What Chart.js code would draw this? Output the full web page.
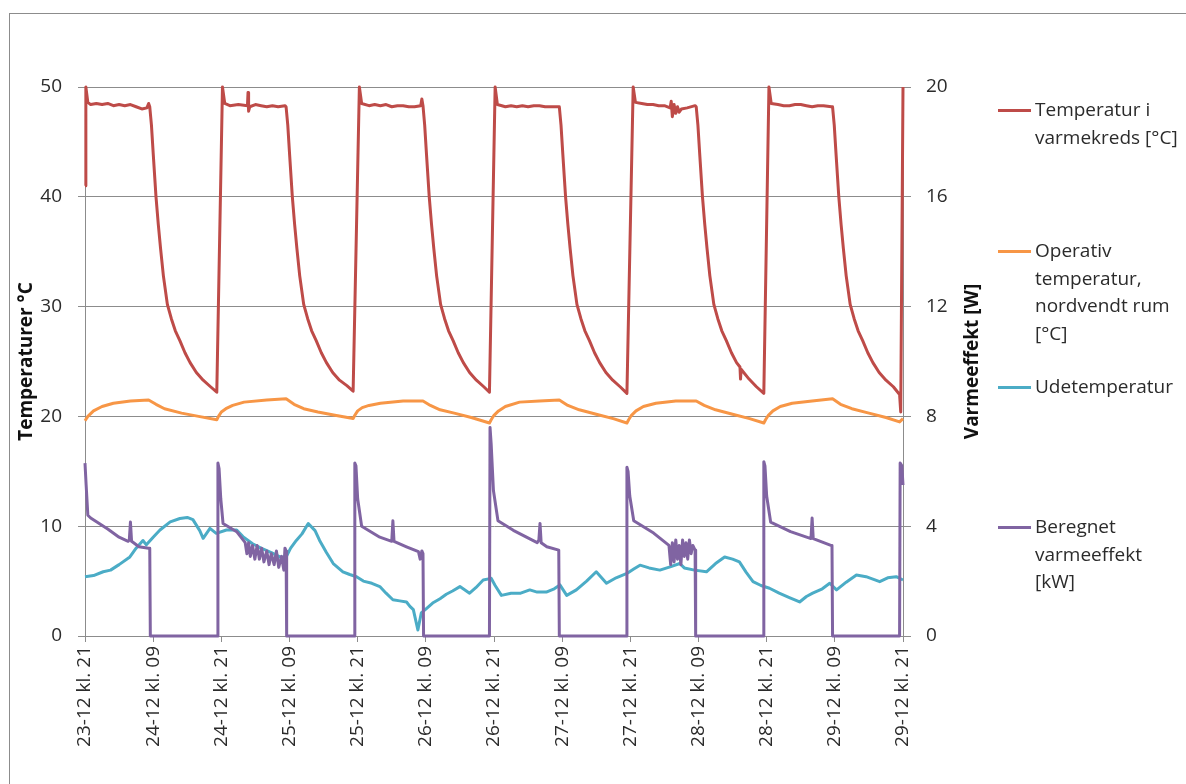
<!DOCTYPE html>
<html>
<head>
<meta charset="utf-8">
<script src="https://cdn.jsdelivr.net/npm/chart.js@4.4.1/dist/chart.umd.min.js"></script>
<style>
  html, body { margin: 0; padding: 0; background: #fff; }
  #wrap { position: relative; width: 1186px; height: 784px; overflow: hidden; font-family: "Open Sans", sans-serif; }
  #frame { position: absolute; left: 9px; top: 13px; width: 1300px; height: 900px; border-left: 1px solid #8c8c8c; border-top: 1px solid #8c8c8c; }
  #chart { position: absolute; left: 0; top: 0; }
  .lg-item { position: absolute; left: 998px; }
  .lg-line { position: absolute; left: 0; width: 33px; height: 3px; }
  .lg-text { position: absolute; left: 37px; font-size: 19px; line-height: 27.5px; color: #2b2b2b; white-space: nowrap; }
</style>
</head>
<body>
<div id="wrap">
  <div id="frame"></div>
  <canvas id="chart" width="1186" height="784"></canvas>
  <div id="legend"></div>
</div>
<script>
// x axis: hours after 23-12 kl. 21
const xTickHours = [0, 12, 24, 36, 48, 60, 72, 84, 96, 108, 120, 132, 144];
const xLabels = ['23-12 kl. 21', '24-12 kl. 09', '24-12 kl. 21', '25-12 kl. 09', '25-12 kl. 21',
  '26-12 kl. 09', '26-12 kl. 21', '27-12 kl. 09', '27-12 kl. 21', '28-12 kl. 09',
  '28-12 kl. 21', '29-12 kl. 09', '29-12 kl. 21'];

// [hour, °C]
const kredsTemp = [
  [0, 41], [0.15, 50], [0.5, 48.6], [1, 48.4], [2, 48.5], [3, 48.4], [4, 48.5], [5, 48.3], [6, 48.4], [7, 48.3], [8, 48.4], [9, 48.2],
  [10, 48.0], [10.9, 48.1], [11.2, 48.5],
  [11.4, 48.2], [11.7, 46.5], [12.0, 44], [12.5, 40], [12.9, 37.5], [13.3, 35.3], [13.8, 32.8], [14.5, 30.2], [15.2, 28.9],
  [15.9, 27.8], [16.7, 26.9], [17.6, 25.8], [18.5, 24.9], [19.6, 24.0], [20.8, 23.3], [22.1, 22.7], [23.2, 22.2],
  [24.2, 50], [24.6, 48.5], [25.5, 48.3], [27, 48.4], [28.6, 48.3], [28.7, 49.5], [28.8, 47.8], [29, 48.2], [30, 48.4], [31, 48.3],
  [32, 48.2], [33, 48.3], [34, 48.2], [35.2, 48.3],
  [35.4, 48.2], [35.7, 46.5], [36.0, 44], [36.5, 40], [36.9, 37.5], [37.3, 35.3], [37.8, 32.8], [38.5, 30.2], [39.2, 28.9],
  [39.9, 27.8], [40.7, 26.9], [41.6, 25.8], [42.5, 24.9], [43.6, 24.0], [44.8, 23.3], [46.1, 22.8], [47.2, 22.3],
  [48.3, 50], [48.7, 48.5], [50, 48.3], [51, 48.4], [52, 48.3], [53, 48.4], [54, 48.2], [55, 48.3], [56, 48.3], [57, 48.2], [58, 48.2],
  [59.1, 48.3], [59.3, 48.9],
  [59.5, 48.3], [59.8, 46.5], [60.1, 44], [60.6, 40], [61.0, 37.5], [61.4, 35.3], [61.9, 32.8], [62.6, 30.2], [63.3, 28.9],
  [64.0, 27.8], [64.8, 26.9], [65.7, 25.8], [66.6, 24.9], [67.7, 24.0], [68.9, 23.3], [70.2, 22.7], [71.2, 22.2],
  [72.2, 50], [72.6, 48.4], [74, 48.2], [75, 48.3], [76, 48.2], [77, 48.3], [78, 48.2], [79, 48.3], [80, 48.3], [81, 48.2], [82, 48.2],
  [83.3, 48.2],
  [83.5, 48.2], [83.8, 46.5], [84.1, 44], [84.6, 40], [85.0, 37.5], [85.4, 35.3], [85.9, 32.8], [86.6, 30.2], [87.3, 28.9],
  [88.0, 27.8], [88.8, 26.9], [89.7, 25.8], [90.6, 24.9], [91.7, 24.0], [92.9, 23.3], [94.2, 22.7], [95.4, 22.1],
  [96.5, 50], [96.9, 48.6], [98, 48.5], [99, 48.4], [100, 48.4], [101, 48.3], [102, 48.3], [103, 48.1], [103.2, 48.7], [103.4, 47.3],
  [103.7, 48.4], [104, 47.6], [104.3, 48.2], [104.6, 47.7], [105, 48.0], [106, 48.1], [107.4, 48.3],
  [107.6, 48.2], [107.9, 46.5], [108.2, 44], [108.7, 40], [109.1, 37.5], [109.5, 35.3], [110.0, 32.8], [110.7, 30.2], [111.4, 28.9],
  [112.1, 27.8], [112.9, 26.9], [113.8, 25.8], [114.7, 24.9], [115.3, 24.5], [115.4, 23.4], [115.5, 24.3], [116.9, 23.4],
  [118.2, 22.7], [119.5, 22.1],
  [120.4, 50], [120.8, 48.5], [122, 48.4], [123, 48.3], [124, 48.3], [125, 48.4], [126, 48.4], [127, 48.3], [128, 48.2], [129, 48.3],
  [130, 48.3], [131.4, 48.2],
  [131.6, 48.2], [131.9, 46.5], [132.2, 44], [132.7, 40], [133.1, 37.5], [133.5, 35.3], [134.0, 32.8], [134.7, 30.2], [135.4, 28.9],
  [136.1, 27.8], [136.9, 26.9], [137.8, 25.8], [138.7, 24.9], [139.8, 24.0], [141.0, 23.3], [142.3, 22.7], [143.4, 22.0],
  [143.6, 20.4], [144, 50]
];

// [hour, °C]
const operativTemp = [
  [0, 19.6], [0.5, 20.0], [1.5, 20.5], [3, 20.9], [5, 21.2], [8, 21.4], [11.2, 21.5], [12.5, 21.1], [14, 20.7], [17, 20.3], [20, 20.0], [23.2, 19.7],
  [23.5, 20.0], [24, 20.4], [24.8, 20.7], [26, 21.0], [28, 21.3], [32, 21.5], [35.4, 21.6], [36.8, 21.1], [38.5, 20.7], [41, 20.4], [44, 20.1], [47.2, 19.8],
  [47.5, 20.1], [48, 20.5], [48.8, 20.8], [50, 21.0], [52, 21.2], [56, 21.4], [59.5, 21.4], [60.8, 21.0], [62.5, 20.6], [65, 20.3], [68, 19.9], [71.2, 19.4],
  [71.5, 19.7], [72, 20.1], [72.8, 20.5], [74, 20.9], [76.5, 21.3], [80, 21.4], [83.5, 21.5], [85, 21.0], [87, 20.6], [90, 20.2], [93, 19.8], [95.4, 19.4],
  [95.7, 19.7], [96.2, 20.1], [97, 20.5], [98.3, 20.9], [100.5, 21.2], [104, 21.4], [107.6, 21.4], [109, 21.0], [111, 20.6], [114, 20.2], [117, 19.8], [119.5, 19.4],
  [119.8, 19.7], [120.3, 20.1], [121.1, 20.5], [122.4, 20.9], [124.5, 21.2], [128, 21.4], [131.6, 21.6], [133, 21.1], [135, 20.7],
  [138, 20.3], [141, 19.9], [143.4, 19.5], [144, 19.8]
];

// [hour, °C]
const udeTemp = [
  [0, 5.4], [1.5, 5.5], [3.2, 5.85], [4.5, 6.0], [6, 6.5], [7.9, 7.2], [9, 8.0], [10.2, 8.7], [10.8, 8.3], [12, 9.0], [13.2, 9.65],
  [15, 10.4], [16.7, 10.7], [18, 10.8], [19, 10.6], [20.2, 9.6], [20.8, 8.9], [22.0, 9.8], [23.1, 9.35], [24.9, 9.65], [26.7, 9.65],
  [27.8, 9.05], [29.5, 8.4], [31, 8.0], [32.8, 7.6], [34.3, 7.2], [35.4, 7.2], [36.2, 8.0], [37.2, 8.7], [38.2, 9.3], [39.3, 10.25],
  [40.5, 9.6], [41.3, 8.7], [42.5, 7.6], [43.7, 6.6], [45.4, 5.85], [46.6, 5.6], [47.8, 5.4], [49, 5.0], [50.5, 4.8], [51.9, 4.5],
  [53, 3.9], [54.2, 3.3], [55.4, 3.2], [56.6, 3.1], [57.2, 2.7], [57.8, 2.4], [58.6, 0.55], [59.2, 2.1], [60.1, 2.5], [61.2, 3.0],
  [62.5, 3.4], [63.6, 3.8], [64.7, 4.1], [66.0, 4.5], [67.7, 3.9], [68.8, 4.4], [70.1, 5.1], [71.5, 5.25], [72.2, 4.6], [73.3, 3.7],
  [75, 3.9], [76.7, 3.9], [78.3, 4.2], [79.6, 4.0], [81.2, 4.0], [82.6, 4.3], [83.6, 4.65], [84.8, 3.7], [86.5, 4.2], [88.3, 5.0],
  [90.0, 5.85], [91.8, 4.8], [93.5, 5.3], [95.4, 5.7], [96.6, 6.1], [97.7, 6.45], [99.3, 6.2], [101.2, 6.0], [103, 6.3], [104.7, 6.6],
  [105.5, 6.2], [107.3, 6.0], [109.4, 5.85], [111, 6.6], [112.6, 7.2], [114, 7.0], [115.2, 6.75], [116.4, 5.8], [117.6, 4.95],
  [119, 4.6], [120.5, 4.35], [122.2, 3.9], [124, 3.5], [125.8, 3.1], [127, 3.6], [128.1, 3.9], [129.8, 4.3], [131.1, 4.8],
  [132.3, 4.2], [134, 4.9], [135.8, 5.55], [137.5, 5.4], [139.9, 4.95], [141.3, 5.3], [142.8, 5.4], [144, 5.1]
];

// [hour, kW]
const beregnetEffekt = [
  [0, 6.3], [0.2, 5.5], [0.5, 4.4], [1, 4.3], [2.5, 4.1], [4, 3.9], [6, 3.6], [7.6, 3.45], [7.8, 3.5], [8.0, 4.15], [8.2, 3.45],
  [9.5, 3.25], [11.2, 3.2], [11.4, 3.2], [11.5, 0], [23.3, 0],
  [23.4, 6.3], [23.6, 6.1], [23.9, 5.0], [24.3, 4.1], [26.7, 3.8], [28.2, 3.4], [28.5, 3.0], [28.8, 3.4], [29.1, 2.9], [29.5, 3.3],
  [29.9, 2.8], [30.3, 3.3], [30.7, 2.8], [31.1, 3.2], [31.5, 2.7], [32, 3.1], [32.4, 2.6], [32.8, 3.0], [33.3, 2.6], [33.7, 3.1],
  [34.1, 2.5], [34.6, 2.9], [35, 2.4], [35.2, 3.2], [35.4, 3.1], [35.5, 0], [47.4, 0],
  [47.5, 6.3], [47.7, 6.2], [48, 5.0], [48.7, 4.0], [51.9, 3.6], [54, 3.45], [54.2, 4.2], [54.4, 3.45], [56.6, 3.25], [58.7, 3.07],
  [59, 2.8], [59.3, 3.1], [59.5, 3.0], [59.6, 0], [71.2, 0],
  [71.3, 7.6], [71.5, 7.0], [71.9, 5.3], [72.7, 4.2], [75.4, 3.85], [79.6, 3.4], [79.9, 3.5], [80.1, 4.1], [80.3, 3.4], [81.3, 3.25],
  [83.4, 3.13], [83.5, 0], [95.3, 0],
  [95.4, 6.15], [95.6, 6.0], [95.9, 5.1], [96.6, 4.2], [100.1, 3.75], [102.8, 3.3], [103.1, 2.6], [103.4, 3.4], [103.7, 2.7],
  [104, 3.5], [104.3, 2.8], [104.6, 3.3], [104.9, 2.6], [105.2, 3.5], [105.5, 2.9], [105.8, 3.4], [106.1, 2.8], [106.4, 3.5],
  [106.7, 3.0], [107, 3.3], [107.4, 3.13], [107.5, 0], [119.4, 0],
  [119.5, 6.35], [119.7, 6.2], [120, 5.1], [120.7, 4.15], [124.2, 3.8], [127.8, 3.55], [128, 4.3], [128.2, 3.55], [131.3, 3.3],
  [131.5, 3.3], [131.6, 0], [143.4, 0],
  [143.5, 6.3], [143.8, 6.2], [144, 5.5]
];

const FONT = '"Open Sans", sans-serif';
const GRID = '#8c8c8c';
const TXT = '#2b2b2b';

const series = [
  { lines: ['Temperatur i', 'varmekreds [°C]'], data: kredsTemp, color: '#BE4B48', axis: 'y', order: 3, legendY: 110 },
  { lines: ['Operativ', 'temperatur,', 'nordvendt rum', '[°C]'], data: operativTemp, color: '#F79646', axis: 'y', order: 2, legendY: 251 },
  { lines: ['Udetemperatur'], data: udeTemp, color: '#4BACC6', axis: 'y', order: 1, legendY: 387 },
  { lines: ['Beregnet', 'varmeeffekt', '[kW]'], data: beregnetEffekt, color: '#8064A2', axis: 'y2', order: 0, legendY: 527 }
];

// draws both axis titles reading bottom to top
const axisTitles = {
  id: 'axisTitles',
  afterDraw(chart) {
    const { ctx, chartArea } = chart;
    const cy = (chartArea.top + chartArea.bottom) / 2;
    ctx.save();
    ctx.font = 'bold 19px ' + FONT;
    ctx.fillStyle = '#111';
    ctx.textAlign = 'center';
    ctx.textBaseline = 'middle';
    [[27, 'Temperaturer °C'], [973, 'Varmeeffekt [W]']].forEach(([x, t]) => {
      ctx.save();
      ctx.translate(x, cy);
      ctx.rotate(-Math.PI / 2);
      ctx.fillText(t, 0, 0);
      ctx.restore();
    });
    ctx.restore();
  }
};

new Chart(document.getElementById('chart'), {
  type: 'line',
  data: {
    datasets: series.map(s => ({
      label: s.lines.join(' '),
      data: s.data.map(p => ({ x: p[0], y: p[1] })),
      borderColor: s.color,
      backgroundColor: s.color,
      borderWidth: 3,
      borderJoinStyle: 'round',
      pointRadius: 0,
      tension: 0,
      yAxisID: s.axis,
      order: s.order,
      clip: 4
    }))
  },
  options: {
    responsive: false,
    animation: false,
    layout: { padding: { left: 0, top: 87, right: 183, bottom: 0 } },
    plugins: { legend: { display: false }, tooltip: { enabled: false } },
    scales: {
      x: {
        type: 'linear', min: 0, max: 144,
        afterBuildTicks: s => { s.ticks = xTickHours.map(v => ({ value: v })); },
        afterFit: s => { s.height = 148; },
        grid: { drawOnChartArea: false, drawTicks: true, tickLength: 6, color: GRID },
        border: { color: GRID, width: 1 },
        ticks: {
          autoSkip: false, maxRotation: 90, minRotation: 90, padding: 4,
          color: TXT, font: { family: FONT, size: 19 },
          callback: v => xLabels[xTickHours.indexOf(v)]
        }
      },
      y: {
        position: 'left', min: 0, max: 50,
        afterFit: s => { s.width = 85; },
        grid: { color: GRID, tickLength: 7 },
        border: { color: GRID, width: 1 },
        ticks: { stepSize: 10, padding: 16, color: TXT, font: { family: FONT, size: 19 } }
      },
      y2: {
        position: 'right', min: 0, max: 20,
        afterFit: s => { s.width = 100; },
        grid: { drawOnChartArea: false, color: GRID, tickLength: 8 },
        border: { color: GRID, width: 1 },
        ticks: { stepSize: 4, padding: 15, color: TXT, font: { family: FONT, size: 19 } }
      }
    }
  },
  plugins: [axisTitles]
});

// legend built from the series list
const legend = document.getElementById('legend');
series.forEach(s => {
  const item = document.createElement('div');
  item.className = 'lg-item';
  item.style.top = s.legendY + 'px';
  item.innerHTML = `<div class="lg-line" style="top:-1.5px;background:${s.color}"></div>` +
    `<div class="lg-text" style="top:-13.75px">${s.lines.join('<br>')}</div>`;
  legend.appendChild(item);
});
</script>
</body>
</html>
